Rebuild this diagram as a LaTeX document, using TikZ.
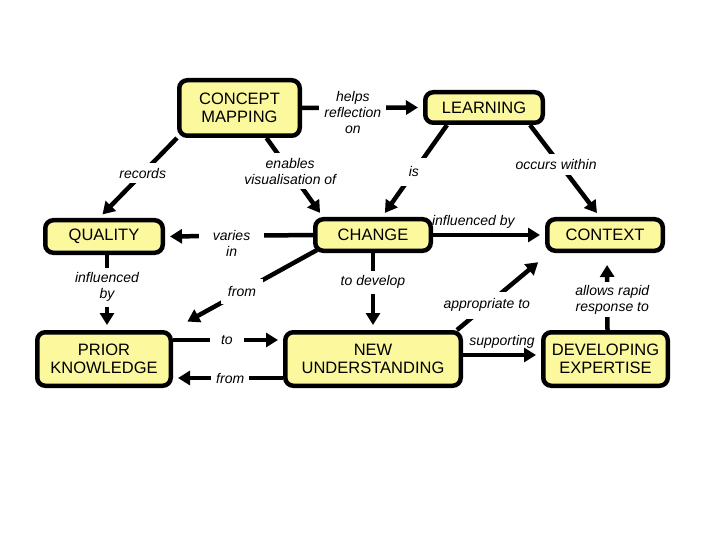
\documentclass[tikz,border=0pt]{standalone}
\usepackage{fontspec}
\setmainfont{Liberation Sans}
\usepackage{tikz}
\usetikzlibrary{arrows.meta,positioning}
\definecolor{boxfill}{RGB}{252,248,158}
\def\boxline{4.5pt}
\def\linkwidth{4.5pt}

\begin{document}
\begin{tikzpicture}[x=1pt,y=-1pt,
    myarrow/.style={-{Triangle[length=12pt,width=14pt]},shorten >=5pt},
    link/.style={line width=\linkwidth,draw=black}]
    \tikzstyle{concept}=[rectangle,rounded corners=8pt,draw=black,line width=\boxline,fill=boxfill,inner sep=0pt,align=center,font=\fontsize{16.5pt}{18pt}\selectfont]
    \tikzstyle{annot}=[fill=white,inner sep=5pt,align=center,font=\fontsize{14pt}{16pt}\selectfont\itshape]

    \fill[white] (0,0) rectangle (720,540);
    \useasboundingbox (0,0) rectangle (720,540);

    % Draw the top row
    \node[concept, minimum width=120.5pt, minimum height=55.5pt] (map) at (239.5,108) {CONCEPT\\MAPPING};
    \node[concept, minimum width=117.5pt, minimum height=30.5pt] (learn) at (484,107.5) {LEARNING};

    % Draw the middle row
    \node[concept, minimum width=117.5pt, minimum height=32.5pt] (qual) at (104,236.5) {QUALITY};
    \node[concept, minimum width=115.5pt, minimum height=31.5pt] (change) at (373,235) {CHANGE};
    \node[concept, minimum width=115.5pt, minimum height=31.5pt] (context) at (605,235) {CONTEXT};

    % Draw the bottom row
    \node[concept, minimum width=133.5pt, minimum height=53.5pt] (prior) at (104,359) {PRIOR\\KNOWLEDGE};
    \node[concept, minimum width=175.5pt, minimum height=53.5pt] (new) at (373,359) {NEW\\UNDERSTANDING};
    \node[concept, minimum width=124.5pt, minimum height=53.5pt] (expert) at (605.5,359) {DEVELOPING\\EXPERTISE};

    % Links from the top row
    \draw[link,myarrow] (map.east) -- node[annot,pos=0.42,yshift=-5pt] (l-helps) {helps\\reflection\\on} (learn.west);
    \draw[link,myarrow] (map.south west) -- node[annot,pos=0.44] (l-rec) {records} ([xshift=-5pt]qual.north);
    \draw[link,myarrow] ([xshift=27pt]map.south) -- node[annot,pos=0.42] (l-enab) {enables\\visualisation of} ([xshift=10pt]change.north west);
    \draw[link,myarrow] ([xshift=24pt]learn.south west) -- node[annot,pos=0.51,inner sep=9pt] (l-is) {is} ([xshift=9pt]change.north);
    \draw[link,myarrow] ([xshift=-15pt]learn.south east) -- node[annot,pos=0.43,xshift=-4pt] (l-occ) {occurs within} ([xshift=-5pt]context.north);

    % Links from the middle row
    \draw[link,myarrow] (change.west) -- node[annot,pos=0.55,yshift=-8pt,inner xsep=14pt] (l-var) {varies\\in} (qual.east);
    \draw[link,myarrow] (change.east) -- node[annot,pos=0.36,above=3pt,fill=none,inner sep=1pt] (l-infl) {influenced by} (context.west);
    \draw[link,myarrow] ([xshift=3pt]qual.south) -- node[annot,pos=0.43] (l-qinf) {influenced\\by} ([xshift=3pt]prior.north);
    \draw[link,myarrow] ([shift={(4pt,3pt)}]change.south west) -- node[annot,pos=0.56,inner sep=7pt] (l-from1) {from} ([shift={(10pt,6pt)}]prior.north east);
    \draw[link,myarrow] (change.south) -- node[annot,pos=0.38] (l-dev) {to develop} (new.north);

    % Links from the bottom row
    \draw[link,myarrow] ([xshift=-6pt]new.north east) -- node[annot,pos=0.35,inner sep=7pt] (l-appr) {appropriate to} ([shift={(-3pt,-6pt)}]context.south west);
    \draw[link,myarrow,shorten >=12pt] ([xshift=2pt]expert.north) -- node[annot,pos=0.39,xshift=5pt,inner sep=3pt] (l-allow) {allows rapid\\response to} ([xshift=2pt]context.south);
    \draw[link,myarrow] ([yshift=19pt]prior.east) -- node[annot,pos=0.49,inner xsep=11pt] (l-to) {to} ([yshift=19pt]new.west);
    \draw[link,myarrow] ([yshift=-19pt]new.west) -- node[annot,pos=0.48] (l-from2) {from} ([yshift=-19pt]prior.east);
    \draw[link,myarrow] ([yshift=4pt]new.east) -- node[annot,above=3pt,fill=none,inner sep=1pt] (l-supp) {supporting} ([yshift=4pt]expert.west);
\end{tikzpicture}
\end{document}
